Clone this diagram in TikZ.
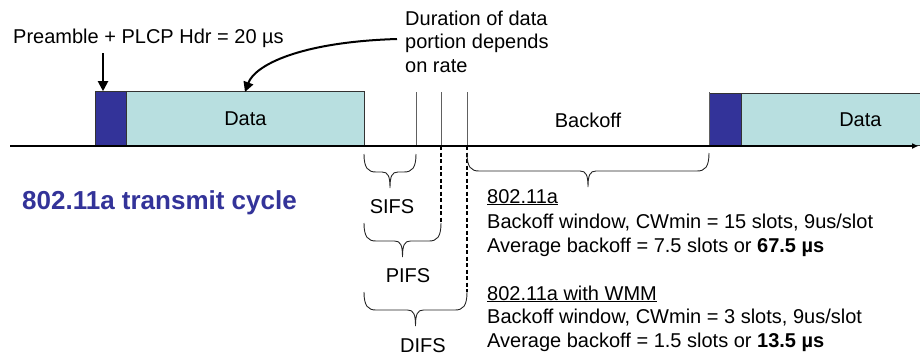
\documentclass[tikz,border=0pt]{standalone}
\usepackage{fontspec}
\setmainfont{Liberation Sans}
\usetikzlibrary{arrows.meta}
\definecolor{pblue}{HTML}{333399}
\definecolor{pcyan}{HTML}{B8DFE0}
\definecolor{vgray}{HTML}{606060}
\newcommand\mybrace[3]{%
  \pgfmathsetmacro\bm{(#1+#2)/2}%
  \draw[bracestyle] (#1,#3) .. controls (#1,#3+14) and (#1+4,#3+18) .. (#1+12,#3+18)
    -- (\bm-8,#3+18) .. controls (\bm-2,#3+18) and (\bm,#3+22) .. (\bm,#3+34)
    .. controls (\bm,#3+22) and (\bm+2,#3+18) .. (\bm+8,#3+18)
    -- (#2-12,#3+18) .. controls (#2-4,#3+18) and (#2,#3+14) .. (#2,#3);}
\begin{document}
\begin{tikzpicture}[x=1pt,y=-1pt,
  txt/.style={font=\fontsize{20}{24}\selectfont, inner sep=0pt},
  prebox/.style={draw=black!80, line width=0.8pt, fill=pblue, inner sep=0pt, anchor=south west},
  databox/.style={draw=black!80, line width=0.8pt, fill=pcyan, inner sep=0pt, anchor=south west, font=\fontsize{20}{24}\selectfont},
  vline/.style={draw=vgray, line width=0.9pt},
  dline/.style={draw=black, line width=1.4pt, dash pattern=on 4pt off 2.5pt},
  bracestyle/.style={draw=black!85, line width=0.9pt},
  arr/.style={draw=black, line width=2pt, -{Triangle[length=10pt,width=10pt]}}]
\useasboundingbox (0,0) rectangle (920,356);
% boxes
\node[prebox, minimum width=31pt, minimum height=54pt] (pre1) at (95,146) {};
\node[databox, minimum width=238pt, minimum height=54pt] (data1) at (126,146) {Data};
\node[prebox, minimum width=32pt, minimum height=52pt] (pre2) at (709,146) {};
\node[databox, minimum width=238pt, minimum height=52pt] (data2) at (741,146) {Data};
% vertical lines
\coordinate (s1t) at (416,92); \coordinate (s1b) at (416,146);
\coordinate (p1t) at (441,92); \coordinate (p1b) at (441,146); \coordinate (p1d) at (441,223);
\coordinate (d1t) at (467,92); \coordinate (d1b) at (467,146); \coordinate (d1d) at (467,292);
\coordinate (b2t) at (709,92); \coordinate (b2b) at (709,146);
\draw[vline] (s1t) -- (s1b);
\draw[vline] (p1t) -- (p1b);
\draw[vline] (d1t) -- (d1b);
\draw[vline] (b2t) -- (b2b);
\draw[dline] (p1b) -- (p1d);
\draw[dline] (d1b) -- (d1d);
% timeline
\coordinate (tl0) at (10,146); \coordinate (tl1) at (918,146);
\draw[line width=2.5pt, -{Triangle[length=6pt,width=5pt]}] (tl0) -- (tl1);
% braces
\mybrace{364}{416}{154}
\mybrace{364}{441}{223}
\mybrace{364}{467}{292}
\mybrace{467}{709}{153}
\node[txt, anchor=base] (sifs) at (392,213) {SIFS};
\node[txt, anchor=base] (pifs) at (408,282) {PIFS};
\node[txt, anchor=base] (difs) at (423,352) {DIFS};
\node[txt, anchor=base] (backoff) at (588,127) {Backoff};
% top annotations
\node[txt, anchor=base west] (preamble) at (13,43) {Preamble + PLCP Hdr = 20 µs};
\coordinate (prea) at (103,53);
\draw[arr] (prea) -- (pre1.north west -| prea);
\node[txt, anchor=base west] (dur1) at (405,25) {Duration of data};
\node[txt, anchor=base west] (dur2) at (405,48) {portion depends};
\node[txt, anchor=base west] (dur3) at (405,72) {on rate};
\coordinate (curs) at (397,39);
\coordinate (cure) at (245,92);
\draw[arr] (curs) .. controls (300,42) and (255,65) .. (cure);
% title
\node[inner sep=0pt, anchor=base west, font=\fontsize{26}{30}\selectfont\bfseries, text=pblue] (title) at (22,209) {802.11a transmit cycle};
% right text
\node[txt, anchor=base west] (r1) at (487,203) {\underline{802.11a}};
\node[txt, anchor=base west] (r2) at (487,228) {Backoff window, CWmin = 15 slots, 9us/slot};
\node[txt, anchor=base west] (r3) at (487,252) {Average backoff = 7.5 slots or \textbf{67.5 µs}};
\node[txt, anchor=base west] (r4) at (487,300) {\underline{802.11a with WMM}};
\node[txt, anchor=base west] (r5) at (487,323) {Backoff window, CWmin = 3 slots, 9us/slot};
\node[txt, anchor=base west] (r6) at (487,347) {Average backoff = 1.5 slots or \textbf{13.5 µs}};
\end{tikzpicture}
\end{document}
